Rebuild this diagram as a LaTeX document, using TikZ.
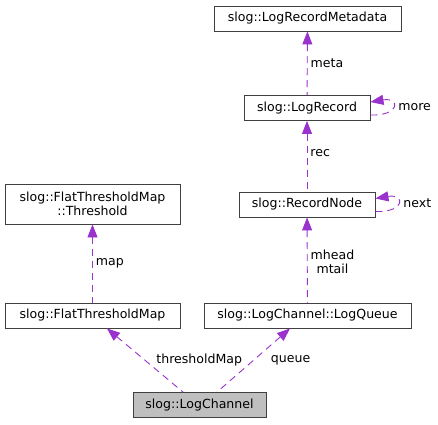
\documentclass[tikz,border=0pt]{standalone}
\usepackage{fontspec}
\setmainfont{DejaVu Sans}
\usetikzlibrary{arrows.meta}
\definecolor{edgepurple}{HTML}{9A32CD}
\definecolor{boxline}{HTML}{404040}
\definecolor{curfill}{HTML}{BFBFBF}

\begin{document}
\begin{tikzpicture}[
  x=1bp,y=-1bp,
  font=\fontsize{12.6}{15}\selectfont,
  >={Triangle[length=13bp,width=10bp]},
  cls/.style={draw=boxline,line width=0.9bp,fill=white,align=center,inner sep=0pt,
              minimum height=25bp,minimum width=#1},
  cur/.style={cls=#1,fill=curfill},
  edge/.style={<-,draw=edgepurple,line width=0.9bp,dash pattern=on 7bp off 5bp},
  lbl/.style={font=\fontsize{12.6}{14}\selectfont,inner sep=1bp,align=center},
]
\useasboundingbox (0,0) rectangle (438,424);

% ---- classes ----
\node[cls=187bp] (META) at (307.5,18.5) {slog::LogRecordMetadata};
\node[cls=126bp] (REC) at (307,108) {slog::LogRecord};
\node[cls=136bp] (NODE) at (307,204.5) {slog::RecordNode};
\node[cls=175bp,minimum height=40bp] (THR) at (92.5,204) {slog::FlatThresholdMap\\[-1bp]::Threshold};
\node[cls=175bp] (FTM) at (92.5,315.5) {slog::FlatThresholdMap};
\node[cls=207bp] (QUEUE) at (307.5,315.5) {slog::LogChannel::LogQueue};
\node[cur=133bp] (CHAN) at (199.5,405) {slog::LogChannel};

% ---- members ----
\draw[edge] (META) -- (REC) node[lbl,midway,anchor=west,xshift=2bp] {meta};
\draw[edge] (REC) -- (NODE) node[lbl,midway,anchor=west,xshift=2bp,yshift=3bp] {rec};
\draw[edge] ([yshift=6bp]REC.east) .. controls +(30,-5) and +(30,1) .. ([yshift=-7bp]REC.east)
  node[lbl,pos=0.5,anchor=west,xshift=4bp] {more};
\draw[edge] ([yshift=6bp]NODE.east) .. controls +(30,-5) and +(30,1) .. ([yshift=-7bp]NODE.east)
  node[lbl,pos=0.5,anchor=west,xshift=4bp] {next};
\draw[edge] (THR) -- (FTM) node[lbl,midway,anchor=west,xshift=2bp] {map};
\draw[edge] (NODE) -- (QUEUE) node[lbl,midway,anchor=west,xshift=2bp,yshift=-2bp] {mhead\\mtail};
\draw[edge] ([xshift=14.5bp]FTM.south) -- ([xshift=-16.5bp]CHAN.north)
  node[lbl,midway,anchor=west,xshift=10bp] {thresholdMap};
\draw[edge] ([xshift=-17.5bp]QUEUE.south) -- ([xshift=17.5bp]CHAN.north)
  node[lbl,midway,anchor=west,xshift=16bp] {queue};
\end{tikzpicture}
\end{document}
